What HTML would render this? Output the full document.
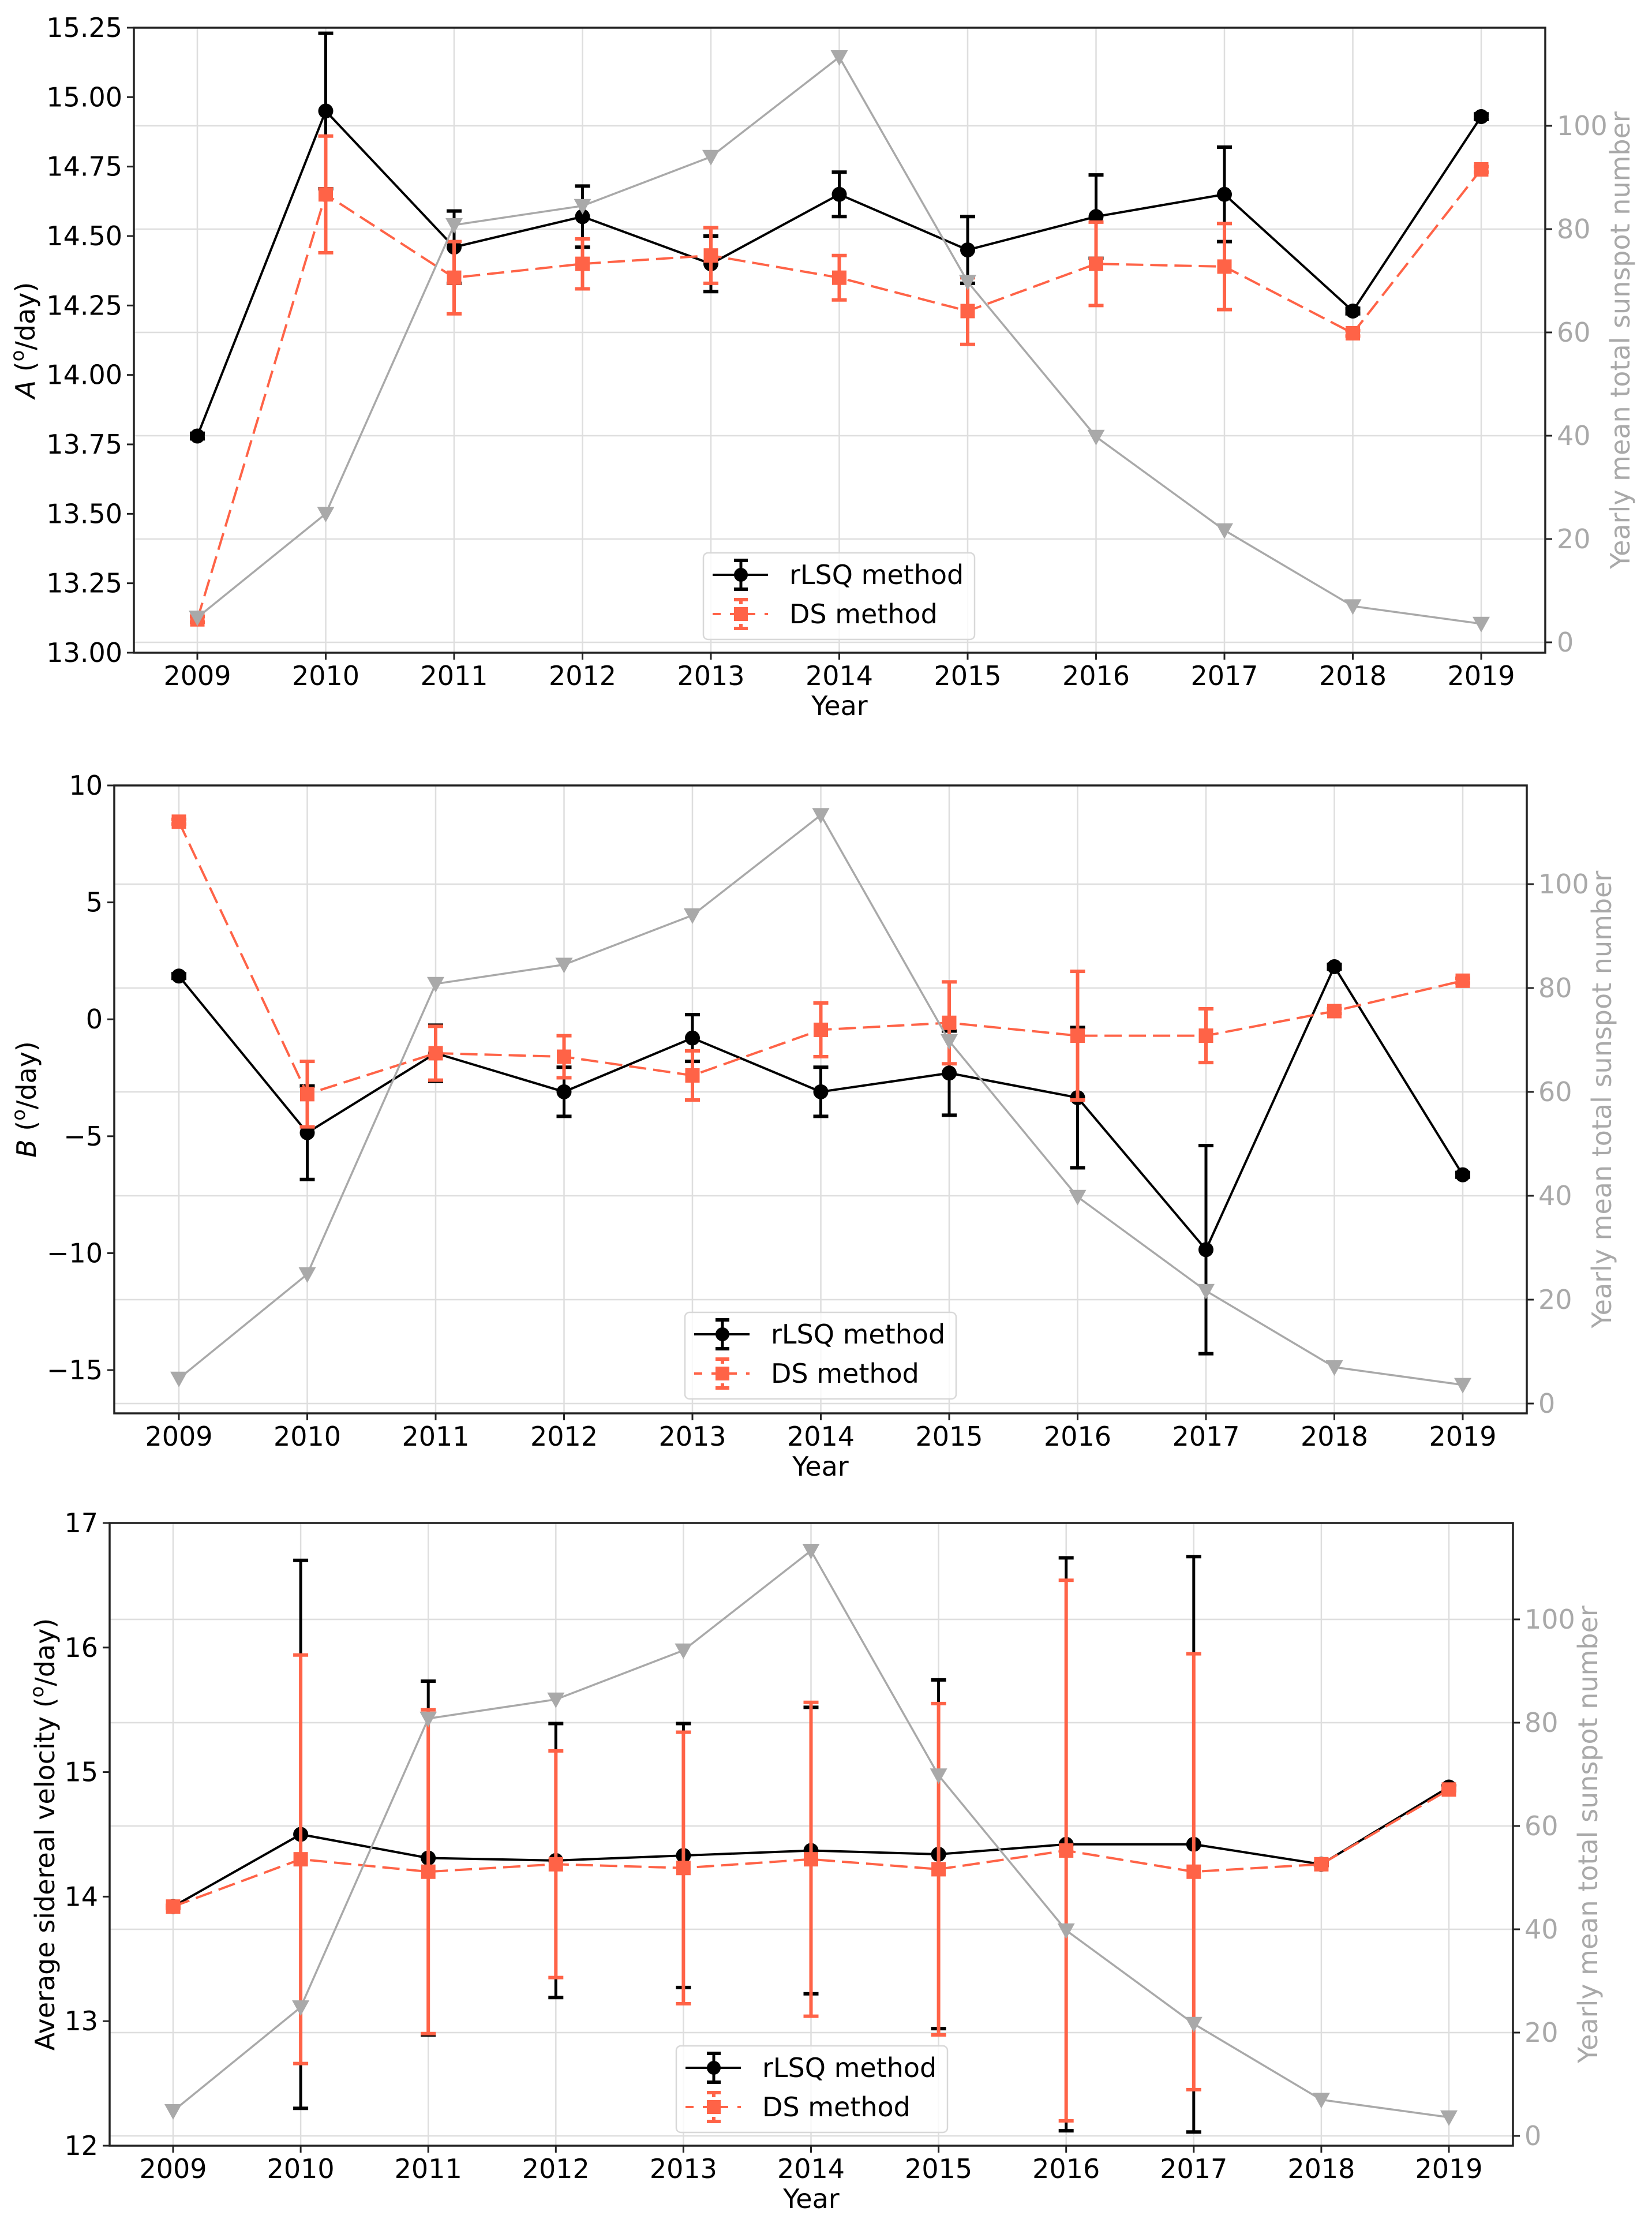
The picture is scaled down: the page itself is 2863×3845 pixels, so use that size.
<!DOCTYPE html>
<html><head><meta charset="utf-8">
<style>
html,body{margin:0;padding:0;background:#fff;}
svg{display:block;font-family:"DejaVu Sans","Liberation Sans",sans-serif;}
</style></head>
<body>
<svg id="fig" width="2863" height="3845" viewBox="0 0 2863 3845" xmlns="http://www.w3.org/2000/svg"></svg>
<script>
const years = [2009,2010,2011,2012,2013,2014,2015,2016,2017,2018,2019];
const sunspot = [4.8,24.9,80.8,84.5,94.0,113.3,69.8,39.8,21.7,7.0,3.6];
const sunTicks = [0,20,40,60,80,100];

const aRlsq = [13.78,14.95,14.46,14.57,14.40,14.65,14.45,14.57,14.65,14.23,14.93];
const aRlsqErr = [0.01,0.28,0.13,0.11,0.10,0.08,0.12,0.15,0.17,0.01,0.01];
const aDs = [13.12,14.65,14.35,14.40,14.43,14.35,14.23,14.40,14.39,14.15,14.74];
const aDsErr = [0.01,0.21,0.13,0.09,0.10,0.08,0.12,0.15,0.155,0.01,0.01];
const aTicks = [13.00,13.25,13.50,13.75,14.00,14.25,14.50,14.75,15.00,15.25];

const bRlsq = [1.85,-4.85,-1.45,-3.1,-0.8,-3.1,-2.3,-3.35,-9.85,2.25,-6.65];
const bRlsqErr = [0.1,2.0,1.2,1.05,1.0,1.05,1.8,3.0,4.45,0.1,0.1];
const bDs = [8.45,-3.2,-1.45,-1.6,-2.4,-0.45,-0.15,-0.7,-0.7,0.35,1.65];
const bDsErr = [0.1,1.4,1.15,0.9,1.05,1.15,1.75,2.75,1.15,0.1,0.1];
const bTicks = [-15,-10,-5,0,5,10];

const vRlsq = [13.92,14.50,14.31,14.29,14.33,14.37,14.34,14.42,14.42,14.26,14.88];
const vRlsqErr = [0.01,2.2,1.42,1.1,1.06,1.15,1.4,2.3,2.31,0.01,0.01];
const vDs = [13.92,14.30,14.20,14.26,14.23,14.30,14.22,14.37,14.20,14.26,14.86];
const vDsErr = [0.01,1.64,1.30,0.91,1.09,1.26,1.33,2.17,1.75,0.01,0.01];
const vTicks = [12,13,14,15,16,17];

const NS='http://www.w3.org/2000/svg';
const fig=document.getElementById('fig');
function mk(tag,attrs,parent){const e=document.createElementNS(NS,tag);for(const k in attrs)e.setAttribute(k,attrs[k]);(parent||fig).appendChild(e);return e;}

const RED='#ff6347', GRAY='#a9a9a9', GRID='#dedede';

function panel(cfg){
  const g=mk('g',{});
  
  
  const L=cfg.left,R=cfg.right,T=cfg.top,B=cfg.bottom;
  const xs=y=>cfg.x0+(y-years[0])*cfg.dx;
  const ys=v=>B-(v-cfg.ymin)/(cfg.ymax-cfg.ymin)*(B-T);
  const y2=v=>cfg.s0-v*cfg.s20/20;
  years.forEach(yr=>{const l=mk('line',{x1:xs(yr),x2:xs(yr),y1:T,y2:B,stroke:GRID,'stroke-width':2.5},g);
    });
  sunTicks.forEach(s=>{const l=mk('line',{x1:L,x2:R,y1:y2(s),y2:y2(s),stroke:GRID,'stroke-width':2.5},g);
    });
  function series(vals,errs,color,dash,marker,nm){
    const sg=mk('g',{},g);
    
    
    vals.forEach((v,i)=>{const x=xs(years[i]);const e=errs[i];
      const w=color===RED?6:5;
      mk('line',{x1:x,x2:x,y1:ys(v+e),y2:ys(v-e),stroke:color,'stroke-width':w},sg);
      [v+e,v-e].forEach(c=>mk('line',{x1:x-13,x2:x+13,y1:ys(c),y2:ys(c),stroke:color,'stroke-width':6},sg));
    });
    const pts=vals.map((v,i)=>xs(years[i])+','+ys(v)).join(' ');
    const pl=mk('polyline',{points:pts,fill:'none',stroke:color,'stroke-width':4,'stroke-dasharray':dash||'none'},sg);
    
    vals.forEach((v,i)=>{const x=xs(years[i]),y=ys(v);let m;
      if(marker==='o')m=mk('circle',{cx:x,cy:y,r:13,fill:color},sg);
      else m=mk('rect',{x:x-12.5,y:y-12.5,width:25,height:25,fill:color},sg);
      });
  }
  series(cfg.r,cfg.re,'#000',null,'o','rlsq-series');
  series(cfg.d,cfg.de,RED,'30 12','s','ds-series');
  const sg=mk('g',{},g);
  
  
  mk('polyline',{points:sunspot.map((s,i)=>xs(years[i])+','+y2(s)).join(' '),fill:'none',stroke:GRAY,'stroke-width':3.5},sg);
  sunspot.forEach((s,i)=>{const x=xs(years[i]),y=y2(s);
    const t=mk('polygon',{points:`${x-15},${y-12} ${x+15},${y-12} ${x},${y+15}`,fill:GRAY},sg);
    });
  const fr=mk('rect',{x:L,y:T,width:R-L,height:B-T,fill:'none',stroke:'#222','stroke-width':3.5},g);
  
  years.forEach(yr=>{const x=xs(yr);mk('line',{x1:x,x2:x,y1:B,y2:B+12,stroke:'#222','stroke-width':3},g);
    const t=mk('text',{x:x,y:B+56,'text-anchor':'middle','font-size':46,fill:'#000'},g);t.textContent=yr;
    });
  const xl=mk('text',{x:(L+R)/2,y:B+108,'text-anchor':'middle','font-size':46,fill:'#000'},g);xl.textContent='Year';
  
  cfg.ticks.forEach(v=>{const y=ys(v);mk('line',{x1:L-12,x2:L,y1:y,y2:y,stroke:'#222','stroke-width':3},g);
    const t=mk('text',{x:L-20,y:y+16,'text-anchor':'end','font-size':46,fill:'#000'},g);
    t.textContent=cfg.fmt(v);
    });
  sunTicks.forEach(s=>{const y=y2(s);mk('line',{x1:R,x2:R+12,y1:y,y2:y,stroke:'#222','stroke-width':3},g);
    const t=mk('text',{x:R+20,y:y+16,'font-size':46,fill:GRAY},g);t.textContent=s;
    });
  const yl=mk('text',{transform:`translate(${cfg.ylx},${(T+B)/2}) rotate(-90)`,'text-anchor':'middle','font-size':46,fill:'#000'},g);
  yl.innerHTML=cfg.ylab;
  
  const yr2=mk('text',{transform:`translate(${cfg.y2x},${(T+B)/2}) rotate(-90)`,'text-anchor':'middle','font-size':46,fill:GRAY},g);
  yr2.textContent='Yearly mean total sunspot number';
  
  const lg=mk('g',{},g);
  
  
  const lx=cfg.lx,ly=cfg.ly;
  mk('rect',{x:lx,y:ly,width:470,height:150,rx:8,fill:'#fff','fill-opacity':0.8,stroke:'#d8d8d8','stroke-width':2.5},lg);
  const cx=lx+65;
  const e1=ly+38, e2=ly+106;
  mk('line',{x1:lx+16,x2:lx+112,y1:e1,y2:e1,stroke:'#000','stroke-width':4},lg);
  mk('line',{x1:cx,x2:cx,y1:e1-25,y2:e1+25,stroke:'#000','stroke-width':5},lg);
  mk('line',{x1:cx-12,x2:cx+12,y1:e1-25,y2:e1-25,stroke:'#000','stroke-width':6},lg);
  mk('line',{x1:cx-12,x2:cx+12,y1:e1+25,y2:e1+25,stroke:'#000','stroke-width':6},lg);
  mk('circle',{cx:cx,cy:e1,r:12,fill:'#000'},lg);
  mk('line',{x1:lx+16,x2:lx+112,y1:e2,y2:e2,stroke:RED,'stroke-width':4,'stroke-dasharray':'14 16'},lg);
  mk('line',{x1:cx,x2:cx,y1:e2-25,y2:e2+25,stroke:RED,'stroke-width':6,'stroke-dasharray':'8 6'},lg);
  mk('line',{x1:cx-12,x2:cx+12,y1:e2-25,y2:e2-25,stroke:RED,'stroke-width':6},lg);
  mk('line',{x1:cx-12,x2:cx+12,y1:e2+25,y2:e2+25,stroke:RED,'stroke-width':6},lg);
  mk('rect',{x:cx-12,y:e2-12,width:24,height:24,fill:RED},lg);
  const t1=mk('text',{x:lx+149,y:e1+16,'font-size':46,fill:'#000'},lg);t1.textContent='rLSQ method';
  
  const t2=mk('text',{x:lx+149,y:e2+16,'font-size':46,fill:'#000'},lg);t2.textContent='DS method';
  
}
const deg='(<tspan baseline-shift="super" font-size="32">o</tspan>/day)';
panel({name:'panel-a',left:232,right:2678,top:48,bottom:1131,x0:342,dx:222.5,ymin:13,ymax:15.25,s0:1113,s20:179,
  r:aRlsq,re:aRlsqErr,d:aDs,de:aDsErr,ticks:aTicks,fmt:v=>v.toFixed(2),
  ylab:'<tspan font-style="italic">A</tspan> '+deg,ylx:60,y2x:2824,lx:1219,ly:958});
panel({name:'panel-b',left:198,right:2646,top:1361,bottom:2449,x0:310,dx:222.5,ymin:-16.85,ymax:10,s0:2432,s20:180,
  r:bRlsq,re:bRlsqErr,d:bDs,de:bDsErr,ticks:bTicks,fmt:v=>v<0?'\u2212'+Math.abs(v):String(v),
  ylab:'<tspan font-style="italic">B</tspan> '+deg,ylx:62,y2x:2792,lx:1187,ly:2274});
panel({name:'panel-velocity',left:190,right:2622,top:2639,bottom:3718,x0:300,dx:221.1,ymin:12,ymax:17,s0:3701,s20:179,
  r:vRlsq,re:vRlsqErr,d:vDs,de:vDsErr,ticks:vTicks,fmt:v=>String(v),
  ylab:'Average sidereal velocity '+deg,ylx:94,y2x:2768,lx:1172,ly:3545});
</script>
</body></html>
